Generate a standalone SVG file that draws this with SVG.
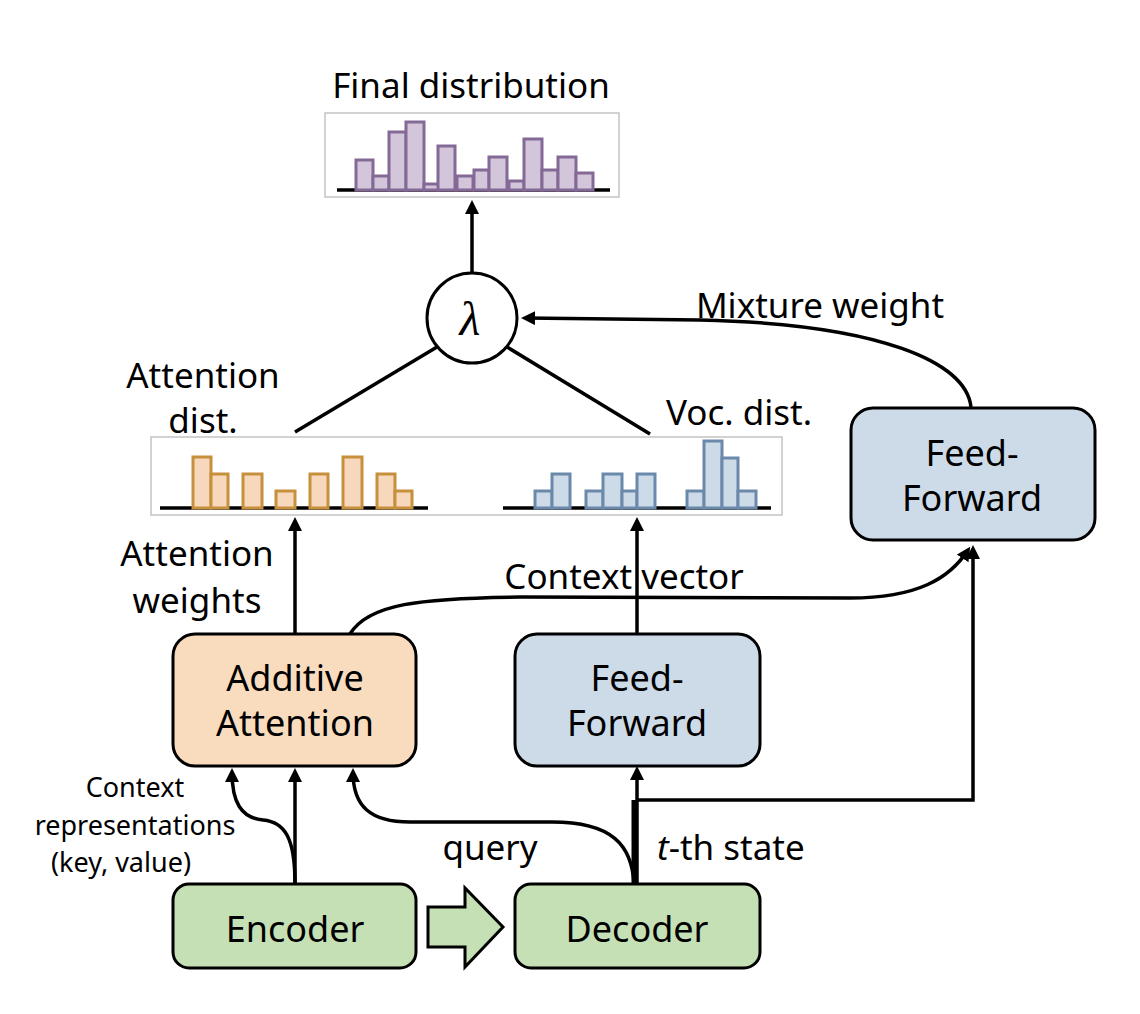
<svg xmlns="http://www.w3.org/2000/svg" width="1140" height="1014" viewBox="0 0 1140 1014">
<style>
  text { font-family: "Noto Sans", "Open Sans", "DejaVu Sans", sans-serif; fill: #000; }
  .lbl { font-size: 35px; text-anchor: middle; }
  .box-t { font-size: 36px; text-anchor: middle; }
  .small { font-size: 27px; text-anchor: middle; }
  .box { stroke: #000; stroke-width: 3; }
  .enc { fill: #c5e0b4; }
  .att { fill: #f9dbbe; }
  .ff { fill: #cddbe8; }
  .edge { fill: none; stroke: #000; stroke-width: 3.5; }
  .pic { fill: #fff; stroke: #c4c4c4; stroke-width: 1.5; }
  .base { stroke: #000; stroke-width: 3.5; }
  .pb { fill: #d3c6da; stroke: #846996; stroke-width: 3; }
  .ob { fill: #f8d8bc; stroke: #c6903d; stroke-width: 3; }
  .bb { fill: #cddbe8; stroke: #6b89aa; stroke-width: 3; }
</style>
<defs>
  <marker id="ah" viewBox="0 0 14 14" markerWidth="14" markerHeight="14" refX="10" refY="7" orient="auto" markerUnits="userSpaceOnUse">
    <path d="M0,0 L14,7 L0,14 z" fill="#000"/>
  </marker>
</defs>
<rect width="1140" height="1014" fill="#fff"/>

<!-- Final distribution -->
<g id="final-dist">
  <text class="lbl" x="471" y="98">Final distribution</text>
  <rect class="pic" x="325" y="113" width="294" height="84"/>
  <line class="base" x1="337" y1="190" x2="610" y2="190"/>
  <rect class="pb" x="356" y="160" width="17" height="30"/>
  <rect class="pb" x="373" y="176" width="16" height="14"/>
  <rect class="pb" x="389" y="132" width="17" height="58"/>
  <rect class="pb" x="406" y="122" width="18" height="68"/>
  <rect class="pb" x="424" y="184" width="15" height="6"/>
  <rect class="pb" x="438" y="146" width="17" height="44"/>
  <rect class="pb" x="457" y="176" width="16" height="14"/>
  <rect class="pb" x="474" y="170" width="15" height="20"/>
  <rect class="pb" x="489" y="157" width="18" height="33"/>
  <rect class="pb" x="509" y="181" width="15" height="9"/>
  <rect class="pb" x="524" y="139" width="18" height="51"/>
  <rect class="pb" x="542" y="170" width="16" height="20"/>
  <rect class="pb" x="558" y="157" width="18" height="33"/>
  <rect class="pb" x="576" y="173" width="17" height="17"/>
</g>

<!-- Lambda -->
<g id="lambda">
  <circle cx="472" cy="318" r="45" fill="#fff" stroke="#000" stroke-width="3"/>
  <text x="470" y="335" text-anchor="middle" style="font-family:'Liberation Serif','DejaVu Serif',serif;font-style:italic;font-size:48px;">λ</text>
</g>

<!-- Attention / Voc dist picture -->
<g id="dists">
  <text class="lbl" x="203" y="388">Attention</text>
  <text class="lbl" x="203" y="433">dist.</text>
  <text class="lbl" x="739" y="425">Voc. dist.</text>
  <rect class="pic" x="151" y="437" width="631" height="78"/>
  <line class="base" x1="160" y1="508" x2="428" y2="508"/>
  <rect class="ob" x="193" y="457" width="18" height="51"/>
  <rect class="ob" x="211" y="474" width="17" height="34"/>
  <rect class="ob" x="243" y="474" width="19" height="34"/>
  <rect class="ob" x="276" y="491" width="19" height="17"/>
  <rect class="ob" x="310" y="474" width="18" height="34"/>
  <rect class="ob" x="343" y="457" width="19" height="51"/>
  <rect class="ob" x="377" y="474" width="18" height="34"/>
  <rect class="ob" x="395" y="491" width="17" height="17"/>
  <line class="base" x1="503" y1="508" x2="771" y2="508"/>
  <rect class="bb" x="535" y="491" width="17" height="17"/>
  <rect class="bb" x="552" y="474" width="18" height="34"/>
  <rect class="bb" x="586" y="491" width="17" height="17"/>
  <rect class="bb" x="603" y="474" width="19" height="34"/>
  <rect class="bb" x="622" y="491" width="15" height="17"/>
  <rect class="bb" x="637" y="474" width="18" height="34"/>
  <rect class="bb" x="687" y="491" width="17" height="17"/>
  <rect class="bb" x="704" y="441" width="18" height="67"/>
  <rect class="bb" x="722" y="458" width="16" height="50"/>
  <rect class="bb" x="738" y="491" width="18" height="17"/>
</g>

<!-- Nodes -->
<g id="ff-top">
  <rect class="box ff" x="851" y="408" width="244" height="132" rx="22"/>
  <text class="box-t" x="972" y="466">Feed-</text>
  <text class="box-t" x="972" y="511">Forward</text>
</g>
<g id="additive-attention">
  <rect class="box att" x="173" y="634" width="243" height="132" rx="22"/>
  <text class="box-t" x="295" y="691">Additive</text>
  <text class="box-t" x="295" y="736">Attention</text>
</g>
<g id="ff-mid">
  <rect class="box ff" x="515" y="634" width="245" height="132" rx="22"/>
  <text class="box-t" x="637" y="691">Feed-</text>
  <text class="box-t" x="637" y="736">Forward</text>
</g>
<g id="encoder">
  <rect class="box enc" x="173" y="884" width="243" height="84" rx="16"/>
  <text class="box-t" x="295" y="942">Encoder</text>
</g>
<g id="decoder">
  <rect class="box enc" x="515" y="884" width="245" height="84" rx="16"/>
  <text class="box-t" x="637" y="942">Decoder</text>
</g>
<g id="fat-arrow">
  <path d="M428,907 L465,907 L465,888 L503,927 L465,967 L465,947 L428,947 z" fill="#c5e0b4" stroke="#000" stroke-width="3" stroke-linejoin="miter"/>
</g>

<!-- Labels -->
<g id="labels">
  <text class="lbl" x="820" y="318">Mixture weight</text>
  <text class="lbl" x="197" y="566">Attention</text>
  <text class="lbl" x="197" y="613">weights</text>
  <text class="lbl" x="624" y="589">Context vector</text>
  <text class="small" x="135" y="797">Context</text>
  <text class="small" x="135" y="835">representations</text>
  <text class="small" x="121" y="872">(key, value)</text>
  <text class="lbl" x="490" y="860">query</text>
  <text class="lbl" x="657" y="860" style="text-anchor:start"><tspan style="font-style:italic">t</tspan>-th state</text>
</g>

<!-- Connectors -->
<g id="connectors">
  <line class="edge" x1="472" y1="272" x2="472" y2="204" marker-end="url(#ah)"/>
  <line class="edge" x1="437" y1="347" x2="295" y2="432"/>
  <line class="edge" x1="507" y1="347" x2="650" y2="434"/>
  <path class="edge" d="M971,407 C966,362 880,324 700,320 L525,318" marker-end="url(#ah)"/>
  <line class="edge" x1="295" y1="634" x2="295" y2="521" marker-end="url(#ah)"/>
  <line class="edge" x1="637" y1="634" x2="637" y2="521" marker-end="url(#ah)"/>
  <path class="edge" d="M350,634 C368,604 420,598 520,597 L850,598 C918,598 950,578 968,550" marker-end="url(#ah)"/>
  <path class="edge" d="M637,800 L973,800 L973,549" marker-end="url(#ah)"/>
  <line class="edge" x1="637" y1="884" x2="637" y2="770" marker-end="url(#ah)"/>
  <line class="edge" x1="634" y1="884" x2="634" y2="800" style="stroke-width:5"/>
  <path class="edge" d="M634,884 C632,845 612,822 552,822 L410,822 C370,822 353,806 353,772" marker-end="url(#ah)"/>
  <line class="edge" x1="295" y1="884" x2="295" y2="772" marker-end="url(#ah)"/>
  <path class="edge" d="M295,884 C295,838 285,822 263,820 C241,818 232,802 232,772" marker-end="url(#ah)"/>
</g>
</svg>
